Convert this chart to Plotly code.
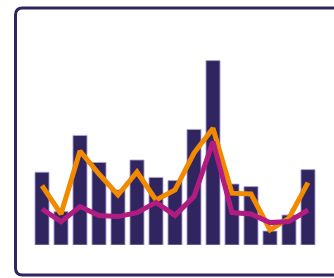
import plotly.graph_objects as go

# ---- data (arbitrary units) ----
categories = [str(i) for i in range(1, 16)]
bar_values = [36.4, 16.7, 54.8, 41.3, 27.5, 42.5, 33.8, 32.2, 57.8, 92.2, 30.5, 29.2, 7.0, 15.0, 37.7]
orange_values = [29.7, 15.5, 47.0, 35.5, 25.0, 36.5, 22.5, 27.5, 46.0, 58.4, 25.9, 25.5, 7.5, 13.5, 31.2]
magenta_values = [18.0, 11.7, 19.2, 14.7, 14.2, 16.2, 21.3, 14.8, 24.2, 51.7, 16.2, 15.5, 11.2, 11.7, 17.5]

W, H = 334, 278
NAVY = "#30255f"
ORANGE = "#f28a00"
MAGENTA = "#b21c80"


def px(x):
    return x / W


def py(y):
    return 1 - y / H


fig = go.Figure()
fig.add_trace(go.Bar(
    x=categories, y=bar_values,
    marker=dict(color=NAVY, line=dict(color="rgba(175,165,215,0.85)", width=1)),
    showlegend=False, hoverinfo="skip",
))
fig.add_trace(go.Scatter(
    x=categories, y=orange_values, mode="lines",
    line=dict(color=ORANGE, width=5),
    showlegend=False, hoverinfo="skip",
))
fig.add_trace(go.Scatter(
    x=categories, y=magenta_values, mode="lines",
    line=dict(color=MAGENTA, width=5),
    showlegend=False, hoverinfo="skip",
))

# rounded frame (right side runs off the picture)
L, T, B, R, r = 15.5, 8.0, 275.0, 350.0, 7.0
path = (
    f"M {px(L + r)},{py(T)} L {px(R)},{py(T)} L {px(R)},{py(B)} "
    f"L {px(L + r)},{py(B)} Q {px(L)},{py(B)} {px(L)},{py(B - r)} "
    f"L {px(L)},{py(T + r)} Q {px(L)},{py(T)} {px(L + r)},{py(T)} Z"
)
fig.add_shape(type="path", path=path, xref="paper", yref="paper",
              line=dict(color=NAVY, width=3), fillcolor="rgba(0,0,0,0)", layer="below")

fig.update_layout(
    width=W, height=H,
    margin=dict(l=0, r=0, t=0, b=0),
    paper_bgcolor="white", plot_bgcolor="rgba(0,0,0,0)",
    bargap=0.26,
    xaxis=dict(domain=[px(32.5), px(317.5)], range=[-0.5, 14.5],
               showgrid=False, zeroline=False, showticklabels=False, showline=False),
    yaxis=dict(domain=[py(245), py(45)], range=[0, 100],
               showgrid=False, zeroline=False, showticklabels=False, showline=False),
)

fig.write_html("out.html", config={"displayModeBar": False},
               post_script="document.body.style.margin='0';")
